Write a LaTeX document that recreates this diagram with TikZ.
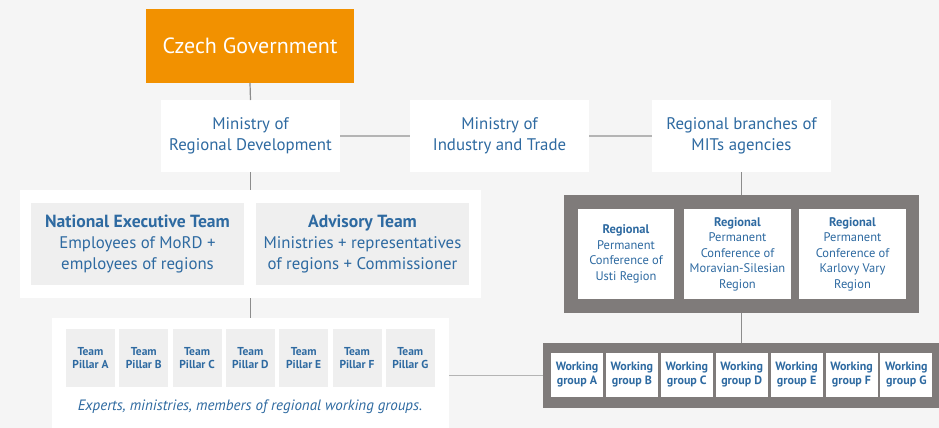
\documentclass[tikz,border=0pt]{standalone}
\usepackage{fontspec}
\setmainfont{PT Sans}
\definecolor{bg}{HTML}{F5F5F5}
\definecolor{orng}{HTML}{F29100}
\definecolor{txtblue}{HTML}{2E6AA1}
\definecolor{lgray}{HTML}{EFEFEF}
\definecolor{dgray}{HTML}{7F7B7A}
\definecolor{vline}{HTML}{8C8C8C}
\definecolor{hline}{HTML}{B4B4B4}
\newcommand{\hdr}[1]{{\fontsize{17.6}{21}\selectfont\bfseries #1}}
\tikzset{
  base/.style={inner sep=0pt, outer sep=0pt, align=center, text=txtblue},
  govbox/.style={base, fill=orng, text=white, font=\fontsize{22}{26}\selectfont},
  wbox/.style={base, fill=white, font=\fontsize{16.8}{21}\selectfont},
  gbox/.style={base, fill=lgray, font=\fontsize{16.8}{21}\selectfont},
  regbox/.style={base, fill=white, font=\fontsize{12.5}{15.5}\selectfont},
  pillbox/.style={base, fill=lgray, minimum width=49pt, minimum height=58pt, font=\fontsize{11.5}{13.5}\selectfont\bfseries},
  wgbox/.style={base, fill=white, minimum width=52pt, minimum height=44pt, font=\fontsize{12}{14}\selectfont\bfseries},
  vconn/.style={draw=vline, line width=1.2pt},
  hconn/.style={draw=hline, line width=1.6pt},
}
\begin{document}
\begin{tikzpicture}[x=1pt,y=-1pt]
\fill[bg] (0,0) rectangle (939,428);
\useasboundingbox (0,0) rectangle (939,428);

% top row
\node[govbox, minimum width=208pt, minimum height=74pt] (gov) at (250,46) {Czech Government};
\node[wbox, minimum width=179pt, minimum height=72pt] (mord) at (250.5,136) {Ministry of\\Regional Development};
\node[wbox, minimum width=179pt, minimum height=72pt] (mit) at (499.5,136) {Ministry of\\Industry and Trade};
\node[wbox, minimum width=179pt, minimum height=72pt] (rb) at (741.5,136) {Regional branches of\\MITs agencies};

% teams
\node[base, fill=white, minimum width=461pt, minimum height=108pt] (teams) at (250.5,244) {};
\node[gbox, minimum width=213pt, minimum height=82pt] (net) at (137.5,244) {\hdr{National Executive Team}\\Employees of MoRD +\\employees of regions};
\node[gbox, minimum width=213pt, minimum height=82pt] (adv) at (362.5,244) {\hdr{Advisory Team}\\Ministries + representatives\\of regions + Commissioner};

% pillars
\node[base, fill=white, minimum width=397pt, minimum height=110pt] (pillc) at (250.5,373) {};
\foreach \l [count=\i from 0] in {A,B,C,D,E,F,G} {
  \node[pillbox] (p\l) at ({90.5+53.3*\i},358) {Team\\Pillar \l};
}
\node[base, font=\fontsize{15}{17}\selectfont\itshape] (exp) at (250,407) {Experts, ministries, members of regional working groups.};

% regional conferences
\node[base, fill=dgray, minimum width=355pt, minimum height=118pt] (regc) at (741.5,254) {};
\node[regbox, minimum width=96pt, minimum height=90pt] (r1) at (626,254) {\textbf{Regional}\\Permanent\\Conference of\\Usti Region};
\node[regbox, minimum width=107pt, minimum height=90pt] (r2) at (737.5,254) {\textbf{Regional}\\Permanent\\Conference of\\Moravian-Silesian\\Region};
\node[regbox, minimum width=107pt, minimum height=90pt] (r3) at (852.5,254) {\textbf{Regional}\\Permanent\\Conference of\\Karlovy Vary\\Region};

% working groups
\node[base, fill=dgray, minimum width=396pt, minimum height=65pt] (wgc) at (741,375.5) {};
\foreach \l [count=\i from 0] in {A,B,C,D,E,F,G} {
  \node[wgbox] (w\l) at ({577+54.9*\i},375) {Working\\group \l};
}

% connectors
\draw[vconn] (gov.south) -- (mord.north);
\draw[hconn] (mord.east) -- (mit.west);
\draw[hconn] (mit.east) -- (rb.west);
\draw[vconn] (mord.south) -- (teams.north);
\draw[vconn] (teams.south) -- (pillc.north);
\draw[vconn] (rb.south) -- (regc.north -| rb.south);
\draw[vconn] (regc.south) -- (wgc.north -| regc.south);
\draw[hconn] (wgc.west) -- (wgc.west -| pillc.east);
\end{tikzpicture}
\end{document}
